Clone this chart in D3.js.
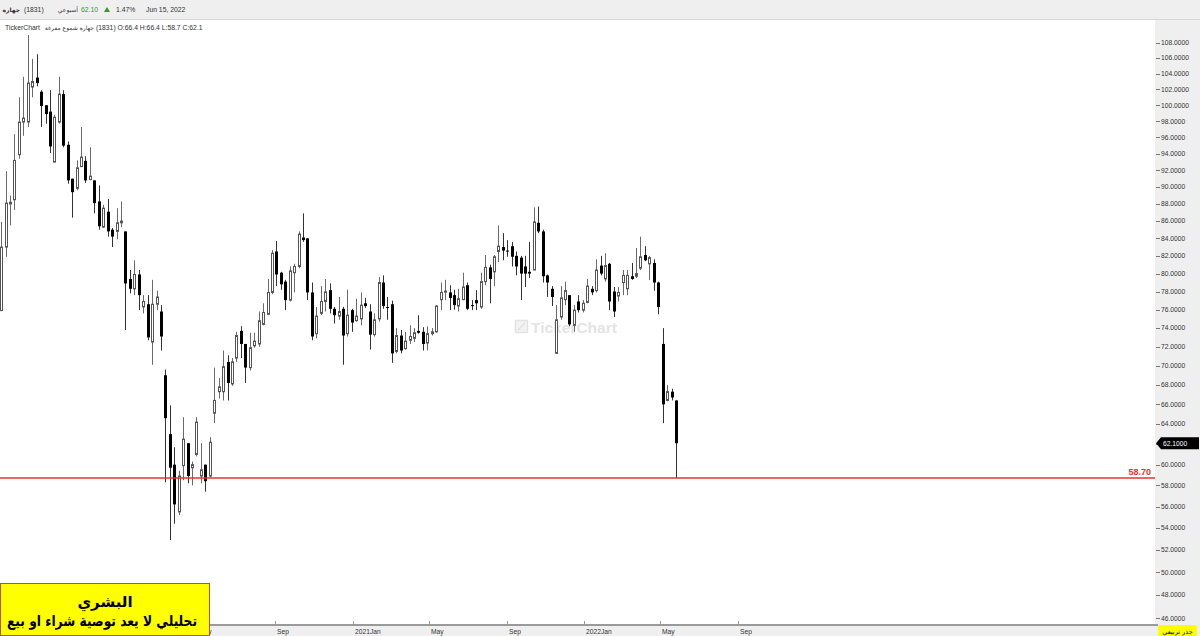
<!DOCTYPE html>
<html><head><meta charset="utf-8">
<script src="https://cdn.jsdelivr.net/npm/d3@7"></script>
<style>html,body{margin:0;padding:0;background:#fff;overflow:hidden}svg{display:block}</style>
</head><body>
<svg id="c" width="1200" height="636"></svg>
<script>
// ---------- data (weekly candles) ----------
const firstWeek = "2019-06-27";
const opens = [75.9,83.0,88.0,88.5,93.9,97.9,97.9,102.3,103.5,101.7,
100.0,99.2,93.0,97.9,101.4,95.1,91.0,89.85,92.45,93.15,
90.9,90.8,88.3,85.3,87.1,85.0,84.8,85.8,84.8,79.4,
78.3,79.9,76.3,76.6,72.5,76.6,75.8,69.0,63.0,60.0,
55.5,59.9,62.1,59.7,61.0,58.9,60.0,58.9,65.1,67.3,
67.3,70.4,68.1,70.8,73.7,72.3,69.8,72.1,72.3,74.4,
75.5,77.9,82.5,80.1,79.1,77.05,80.1,80.8,84.1,84.0,
77.9,73.4,75.6,76.9,78.15,76.1,75.3,76.1,73.4,75.95,
74.8,75.0,76.7,75.8,73.3,75.0,79.0,76.3,76.6,71.5,
73.2,71.8,72.7,72.9,73.7,73.6,72.4,73.4,73.6,77.1,
77.95,77.9,77.6,76.4,77.1,78.7,76.5,77.05,76.3,79.1,
80.7,80.2,82.5,83.0,82.6,83.1,82.0,81.8,80.8,80.2,
80.4,85.8,84.8,79.8,78.3,71.3,75.2,77.1,77.6,74.3,
76.9,75.95,76.8,78.3,78.1,80.9,79.4,81.1,78.0,77.5,
79.0,78.3,79.7,79.7,80.6,82.1,81.1,81.2,79.0,72.3,
66.4,67.3,66.4];
const highs = [85.9,91.9,89.0,96.4,101.0,103.6,109.0,105.9,106.5,101.9,
100.0,101.9,98.8,103.6,101.9,95.5,91.0,93.2,97.3,93.7,
94.8,90.8,90.2,87.9,88.6,85.2,87.5,88.3,84.8,80.4,
81.5,80.4,77.6,77.6,79.3,78.1,76.5,69.6,65.9,61.7,
59.4,64.7,62.1,60.3,64.7,62.1,60.0,62.7,69.8,68.7,
71.6,71.1,70.8,73.6,74.2,72.3,73.5,73.5,75.8,76.7,
79.4,82.65,83.7,80.2,79.3,80.8,81.1,84.8,86.9,84.0,
79.0,76.3,78.6,79.4,78.9,76.3,77.4,76.3,78.2,76.1,
77.2,77.9,77.3,76.6,75.6,79.6,79.8,77.4,77.0,74.0,
73.8,73.6,74.3,74.0,75.4,74.1,74.2,74.0,76.5,79.0,
79.3,78.7,78.2,78.3,80.1,79.0,77.05,78.15,80.1,82.1,
81.0,82.1,85.5,84.6,83.8,83.6,82.5,82.0,82.0,83.6,
87.6,87.7,85.0,79.9,78.6,76.5,78.6,79.1,77.6,76.5,
77.6,77.05,79.4,78.6,81.6,82.0,82.3,81.2,78.5,78.5,
80.4,80.4,81.2,82.9,84.2,83.1,82.0,81.6,79.1,74.0,
68.0,67.6,66.4];
const lows = [75.9,81.9,85.5,87.3,93.4,96.2,97.3,101.0,102.4,97.3,
97.7,94.1,93.0,97.7,94.8,90.4,86.4,89.6,92.45,90.5,
90.8,86.9,85.0,85.2,84.2,83.0,83.9,85.3,73.8,77.8,
77.6,75.95,75.6,72.7,70.1,75.95,71.6,58.3,52.9,54.4,
55.2,58.5,58.2,58.0,60.8,58.2,57.4,58.8,64.1,66.6,
66.4,66.4,67.9,70.4,70.8,68.2,69.5,71.9,72.0,74.3,
75.4,77.7,78.6,78.2,75.95,76.9,77.9,80.6,83.6,77.05,
72.7,72.9,75.4,75.8,75.6,74.5,74.9,70.1,73.1,73.6,
74.7,74.3,76.2,71.7,73.1,74.7,76.1,74.9,70.3,71.3,
71.3,71.7,72.3,72.5,73.4,71.6,71.6,73.2,73.5,75.95,
77.05,75.95,76.0,75.8,77.05,75.95,75.95,75.95,76.1,78.7,
76.7,78.6,81.3,81.5,81.9,80.8,79.8,77.05,78.5,79.5,
80.4,84.6,79.0,77.4,76.4,71.3,74.9,76.5,74.2,73.6,
75.7,75.7,76.7,77.6,77.9,79.8,79.1,75.95,75.2,76.9,
77.6,77.6,79.3,79.5,80.4,81.4,79.3,78.1,75.5,64.1,
66.3,66.4,58.7];
const closes = [83.0,88.1,88.2,93.2,97.9,98.4,102.8,103.0,102.8,99.9,
98.9,94.9,98.5,101.4,95.0,90.8,89.4,92.3,93.6,90.8,
91.3,88.1,85.4,87.5,84.8,84.2,85.8,86.0,78.9,78.3,
79.9,77.6,76.9,73.0,76.6,77.4,73.1,64.6,59.7,56.2,
58.9,62.5,58.9,60.0,64.2,59.5,58.4,62.2,66.4,67.8,
69.9,68.2,70.4,73.2,72.3,69.8,71.9,72.6,74.8,75.7,
77.9,82.3,79.9,78.8,77.05,80.3,80.8,84.5,83.8,77.9,
73.1,75.3,76.9,77.96,76.1,75.4,75.8,73.2,75.4,74.6,
75.3,76.5,76.4,73.3,74.9,79.0,76.4,76.2,71.3,73.2,
71.6,72.6,73.1,73.5,73.5,72.3,73.4,73.6,76.4,77.9,
78.05,77.3,76.5,77.2,78.5,76.1,76.4,76.7,79.1,80.7,
79.4,81.9,83.1,82.6,82.5,81.9,80.8,80.0,80.0,80.0,
85.9,84.8,79.7,79.0,77.4,74.9,77.3,78.1,74.4,75.95,
75.95,76.7,78.6,77.9,80.4,80.0,80.9,76.9,75.8,77.9,
79.8,79.8,79.4,80.0,81.9,81.5,81.8,79.0,76.3,66.0,
67.3,66.7,62.1];
const yTicks = d3.range(46, 108.001, 2);
const xTickDates = ["2020-05-01","2020-09-01","2021-01-01","2021-05-01","2021-09-01","2022-01-01","2022-05-01","2022-09-01"];
const xTickLabels = ["May","Sep","2021Jan","May","Sep","2022Jan","May","Sep"];
const supportLevel = 58.70;
const lastPrice = 62.10;

// ---------- setup ----------
const svg = d3.select("#c");
const parse = d3.utcParse("%Y-%m-%d");
const start = parse(firstWeek);
const dates = opens.map((_, i) => d3.utcDay.offset(start, 7 * i));
const candles = dates.map((d, i) => ({d, o: opens[i], h: highs[i], l: lows[i], c: closes[i]}));

const x = d3.scaleUtc().domain([dates[0], dates[dates.length - 1]]).range([1.1, 676]);
const y = d3.scalePow().exponent(0.5).domain([46, 108]).range([618.3, 42.7]);

const plotRight = 1155;
const F = "'Liberation Sans', Arial, sans-serif";
const AR = "'DejaVu Sans', sans-serif";

// backgrounds
svg.append("rect").attr("x", 0).attr("y", 0).attr("width", 1200).attr("height", 636).attr("fill", "#fff");
svg.append("rect").attr("x", 0).attr("y", 0).attr("width", 1200).attr("height", 19).attr("fill", "#efefef");
svg.append("line").attr("x1", 0).attr("x2", 1200).attr("y1", 19.5).attr("y2", 19.5).attr("stroke", "#d6d6d6");
svg.append("rect").attr("x", plotRight).attr("y", 20).attr("width", 1200 - plotRight).attr("height", 616).attr("fill", "#efefef");
svg.append("rect").attr("x", 0).attr("y", 625).attr("width", 1200).attr("height", 11).attr("fill", "#efefef");

// watermark
const wm = svg.append("g");
wm.append("rect").attr("x", 515.5).attr("y", 320.5).attr("width", 12).attr("height", 12)
  .attr("fill", "#f3f3f3").attr("stroke", "#e2e2e2").attr("stroke-width", 1.5);
wm.append("path").attr("d", "M518,330 L522,326 L525,323").attr("stroke", "#e0e0e0").attr("stroke-width", 1.5).attr("fill", "none");
wm.append("text").attr("x", 531).attr("y", 333).attr("font-family", F).attr("font-weight", "bold")
  .attr("font-size", 15.5).attr("fill", "#e4e4e4").text("TickerChart");

// candles
const bw = 3;
const cg = svg.append("g");
candles.forEach(k => {
  const cx = Math.round(x(k.d)) + 0.5;
  const up = k.c >= k.o;
  cg.append("line").attr("x1", cx).attr("x2", cx).attr("y1", y(k.h)).attr("y2", y(k.l))
    .attr("stroke", up ? "#6a6a6a" : "#333").attr("stroke-width", 1);
  const top = y(Math.max(k.o, k.c)), bot = y(Math.min(k.o, k.c));
  const hgt = Math.max(1, bot - top);
  if (up) {
    cg.append("rect").attr("x", cx - 1).attr("y", top).attr("width", 2).attr("height", Math.max(1, hgt))
      .attr("fill", "#fff").attr("stroke", "#555").attr("stroke-width", 1);
  } else {
    cg.append("rect").attr("x", cx - 1.5).attr("y", top).attr("width", bw).attr("height", hgt).attr("fill", "#000");
  }
});

// support line
svg.append("line").attr("x1", 0).attr("x2", plotRight).attr("y1", y(supportLevel)).attr("y2", y(supportLevel))
  .attr("stroke", "#e8322f").attr("stroke-width", 1.5);
svg.append("text").attr("x", 1151).attr("y", y(supportLevel) - 3).attr("text-anchor", "end")
  .attr("font-family", F).attr("font-weight", "bold").attr("font-size", 9).attr("fill", "#e8322f")
  .text(supportLevel.toFixed(2));

// right axis
const ya = svg.append("g");
yTicks.forEach(v => {
  ya.append("line").attr("x1", 1156).attr("x2", 1160).attr("y1", Math.round(y(v)) + 0.5).attr("y2", Math.round(y(v)) + 0.5)
    .attr("stroke", "#777");
  ya.append("text").attr("x", 1161).attr("y", y(v)).attr("dy", "0.35em").attr("font-family", F)
    .attr("font-size", 6.7).attr("fill", "#333").text(d3.format(".4f")(v));
});
// last price tag
const ly = y(lastPrice);
svg.append("path").attr("d", `M1156,${ly} L1161,${ly - 6} L1199,${ly - 6} L1199,${ly + 6} L1161,${ly + 6} Z`).attr("fill", "#000");
svg.append("text").attr("x", 1163).attr("y", ly).attr("dy", "0.35em").attr("font-family", F)
  .attr("font-size", 6.7).attr("fill", "#fff").text(lastPrice.toFixed(4));

// bottom axis
svg.append("line").attr("x1", 0).attr("x2", plotRight + 3).attr("y1", 625).attr("y2", 625).attr("stroke", "#9a9a9a").attr("stroke-width", 2);
xTickDates.forEach((s, i) => {
  const tx = Math.round(x(parse(s))) + 0.5;
  svg.append("line").attr("x1", tx).attr("x2", tx).attr("y1", 621).attr("y2", 625).attr("stroke", "#999");
  svg.append("text").attr("x", tx + 1.5).attr("y", 633.5).attr("font-family", F).attr("font-size", 6.7)
    .attr("fill", "#333").text(xTickLabels[i]);
});

// yellow scale badge bottom right
svg.append("rect").attr("x", 1158).attr("y", 625).attr("width", 39).attr("height", 11).attr("fill", "#ffff00");
svg.append("text").attr("x", 1177.5).attr("y", 633.5).attr("text-anchor", "middle").attr("font-family", AR)
  .attr("font-size", 6.5).attr("fill", "#000").text("جذر تربيعي");

// header
const hdr = svg.append("g").attr("font-family", F).attr("font-size", 6.8).attr("fill", "#333");
hdr.append("text").attr("x", 20).attr("y", 11.5).attr("text-anchor", "end").attr("font-family", AR).attr("font-size", 6).attr("font-weight", "bold").text("جهارة");
hdr.append("text").attr("x", 24).attr("y", 11.5).text("(1831)");
hdr.append("text").attr("x", 78).attr("y", 11.5).attr("text-anchor", "end").attr("font-family", AR).attr("font-size", 6).text("أسبوعي");
hdr.append("text").attr("x", 81).attr("y", 11.5).attr("fill", "#2f9a2f").text("62.10");
hdr.append("path").attr("d", "M104,12 L107,7 L110,12 Z").attr("fill", "#2f9a2f");
hdr.append("text").attr("x", 116).attr("y", 11.5).text("1.47%");
hdr.append("text").attr("x", 146).attr("y", 11.5).text("Jun 15, 2022");

const sub = svg.append("g").attr("font-family", F).attr("font-size", 6.8).attr("fill", "#333");
sub.append("text").attr("x", 5).attr("y", 30).text("TickerChart");
sub.append("text").attr("x", 94).attr("y", 30).attr("text-anchor", "end").attr("font-family", AR).attr("font-size", 6).text("جهارة شموع مفرغة");
sub.append("text").attr("x", 96).attr("y", 30).text("(1831) O:66.4  H:66.4  L:58.7  C:62.1");

// disclaimer box
svg.append("rect").attr("x", 0.5).attr("y", 583.5).attr("width", 209).attr("height", 52)
  .attr("fill", "#ffff00").attr("stroke", "#b5523b").attr("stroke-width", 1);
svg.append("text").attr("x", 105).attr("y", 607).attr("text-anchor", "middle").attr("font-family", AR)
  .attr("font-weight", "bold").attr("font-size", 15).attr("fill", "#000").text("البشري");
svg.append("text").attr("x", 102).attr("y", 626).attr("text-anchor", "middle").attr("font-family", AR)
  .attr("font-weight", "bold").attr("font-size", 15).attr("fill", "#000")
  .attr("textLength", 190).attr("lengthAdjust", "spacingAndGlyphs").text("تحليلي لا يعد توصية شراء او بيع");
</script>
</body></html>
